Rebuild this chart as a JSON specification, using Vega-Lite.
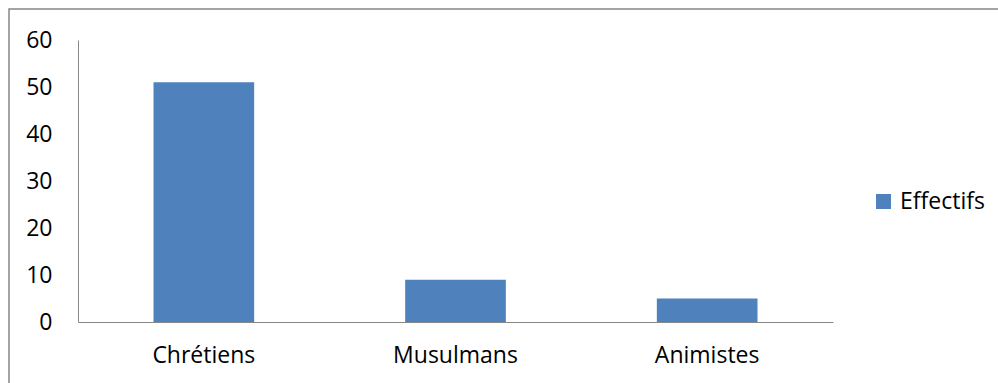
{
  "$schema": "https://vega.github.io/schema/vega-lite/v6.json",
  "autosize": "none",
  "width": 992,
  "height": 377,
  "padding": {"left": 9, "top": 9, "right": -3, "bottom": -3},
  "background": "white",
  "config": {
    "view": {"stroke": "#878787", "strokeWidth": 1.5, "fill": "white"},
    "font": "Open Sans",
    "axis": {
      "domainColor": "#878787",
      "domainWidth": 1,
      "ticks": false,
      "grid": false,
      "labelColor": "#000000",
      "labelFont": "Open Sans",
      "labelFontSize": 23,
      "title": null
    }
  },
  "data": {
    "values": [
      {"religion": "Chrétiens", "effectif": 51, "serie": "Effectifs"},
      {"religion": "Musulmans", "effectif": 9, "serie": "Effectifs"},
      {"religion": "Animistes", "effectif": 5, "serie": "Effectifs"}
    ]
  },
  "mark": {"type": "bar"},
  "encoding": {
    "x": {
      "field": "religion",
      "type": "nominal",
      "sort": null,
      "scale": {"range": [69, 824], "paddingInner": 0.6, "paddingOuter": 0.3},
      "axis": {"orient": "bottom", "offset": -64, "labelAngle": 0, "labelPadding": 22}
    },
    "y": {
      "field": "effectif",
      "type": "quantitative",
      "scale": {"domain": [0, 60], "range": [313, 31], "nice": false, "zero": true},
      "axis": {"orient": "left", "offset": -69, "values": [0, 10, 20, 30, 40, 50, 60], "labelPadding": 26}
    },
    "color": {
      "field": "serie",
      "type": "nominal",
      "scale": {"range": ["#4F81BD"]},
      "legend": {
        "title": null,
        "orient": "none",
        "legendX": 863,
        "legendY": 181,
        "symbolType": "square",
        "symbolSize": 225,
        "symbolStrokeWidth": 0,
        "labelFontSize": 23,
        "labelFont": "Open Sans",
        "labelColor": "#000000",
        "labelOffset": 5
      }
    }
  }
}
